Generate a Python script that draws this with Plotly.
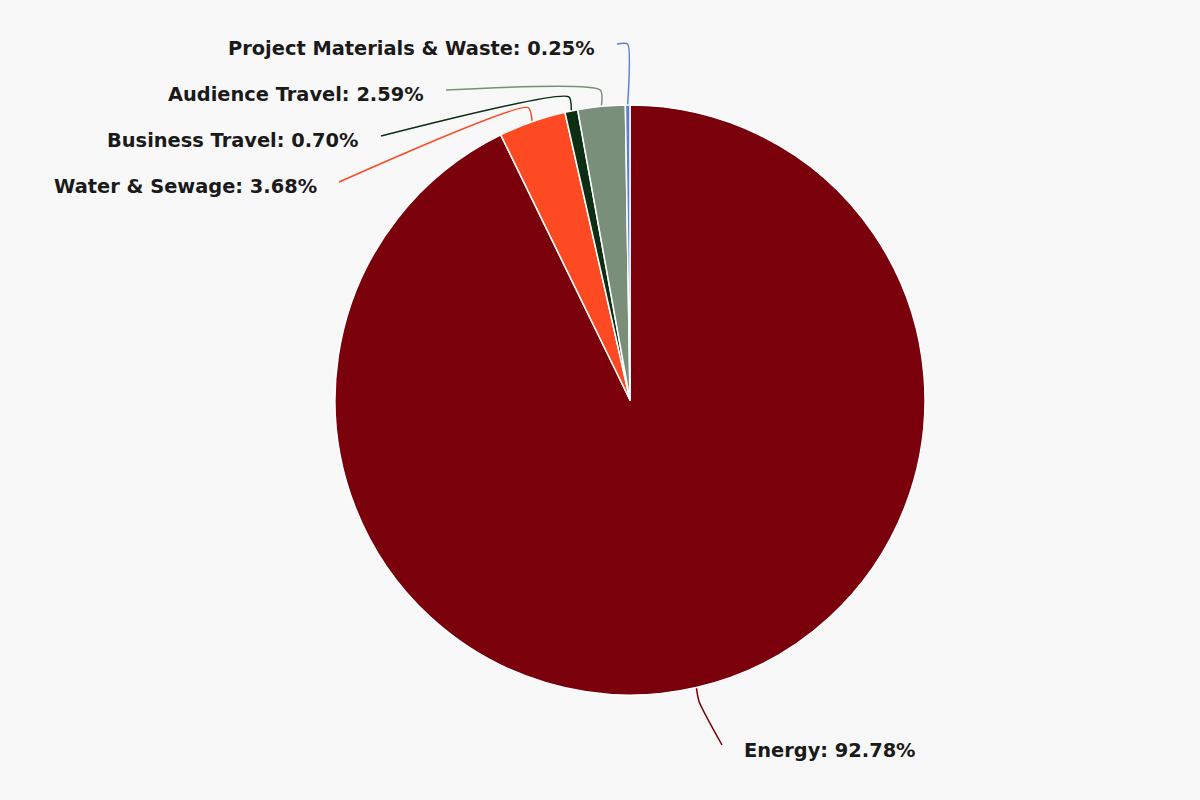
import math
import plotly.graph_objects as go

# ---- data ----
categories = ["Energy", "Water & Sewage", "Business Travel", "Audience Travel", "Project Materials & Waste"]
values = [92.78, 3.68, 0.70, 2.59, 0.25]
colors = ["#7a000b", "#fd4a22", "#0c2f13", "#7a8f7a", "#5b82d2"]

# ---- layout constants (pixels) ----
W, H = 1200, 800
CX, CY, R = 630, 400, 295
# label anchor positions: (x, y, anchor side)
label_pos = {
    "Energy": (742, 750, "left"),
    "Water & Sewage": (319, 186, "right"),
    "Business Travel": (361, 140, "right"),
    "Audience Travel": (426, 94, "right"),
    "Project Materials & Waste": (597, 48, "right"),
}
GAP = 20

fig = go.Figure()
fig.add_trace(go.Pie(
    labels=categories, values=values, sort=False, direction="clockwise", rotation=0,
    marker=dict(colors=colors, line=dict(color="white", width=1.5)),
    textinfo="none", hoverinfo="label+percent", showlegend=False,
    domain=dict(x=[(CX - R) / W, (CX + R) / W], y=[(H - CY - R) / H, (H - CY + R) / H]),
))

total = sum(values)
cum = 0.0
annotations = []
for cat, v, col in zip(categories, values, colors):
    mid = (cum + v / 2) / total * 2 * math.pi
    cum += v
    sx, sy = math.sin(mid), -math.cos(mid)
    p0 = (CX + R * sx, CY + R * sy)
    lx, ly, side = label_pos[cat]
    if side == "right":
        endx = lx + GAP
        liney = ly - 4
    else:
        endx = lx - GAP
        liney = ly - 5
    if sy < 0:
        p1 = (p0[0] + 12 * sx, min(liney, p0[1] - 14))
    else:
        p1 = (p0[0] + 12 * sx, p0[1] + 14)
    p2 = (endx, liney)
    fig.add_trace(go.Scatter(
        x=[p0[0], p1[0], p2[0]], y=[p0[1], p1[1], p2[1]], mode="lines",
        line=dict(color=col, width=1.5, shape="spline", smoothing=0.6),
        hoverinfo="skip", showlegend=False, xaxis="x", yaxis="y",
    ))
    annotations.append(dict(
        x=lx, y=ly, xref="x", yref="y", text=f"{cat}: {v:.2f}%", showarrow=False,
        xanchor=side, yanchor="middle",
        font=dict(family="DejaVu Sans", size=19.4, color="#1a1a1a", weight="bold"),
    ))

fig.update_layout(
    width=W, height=H,
    margin=dict(l=0, r=0, t=0, b=0),
    paper_bgcolor="#f8f8f8", plot_bgcolor="rgba(0,0,0,0)",
    xaxis=dict(range=[0, W], visible=False, domain=[0, 1], fixedrange=True),
    yaxis=dict(range=[H, 0], visible=False, domain=[0, 1], fixedrange=True),
    annotations=annotations,
)
fig.write_html(
    "out.html",
    config={"displayModeBar": False},
    post_script="document.body.style.margin='0';document.body.style.overflow='hidden';document.body.style.background='#f8f8f8';",
)
